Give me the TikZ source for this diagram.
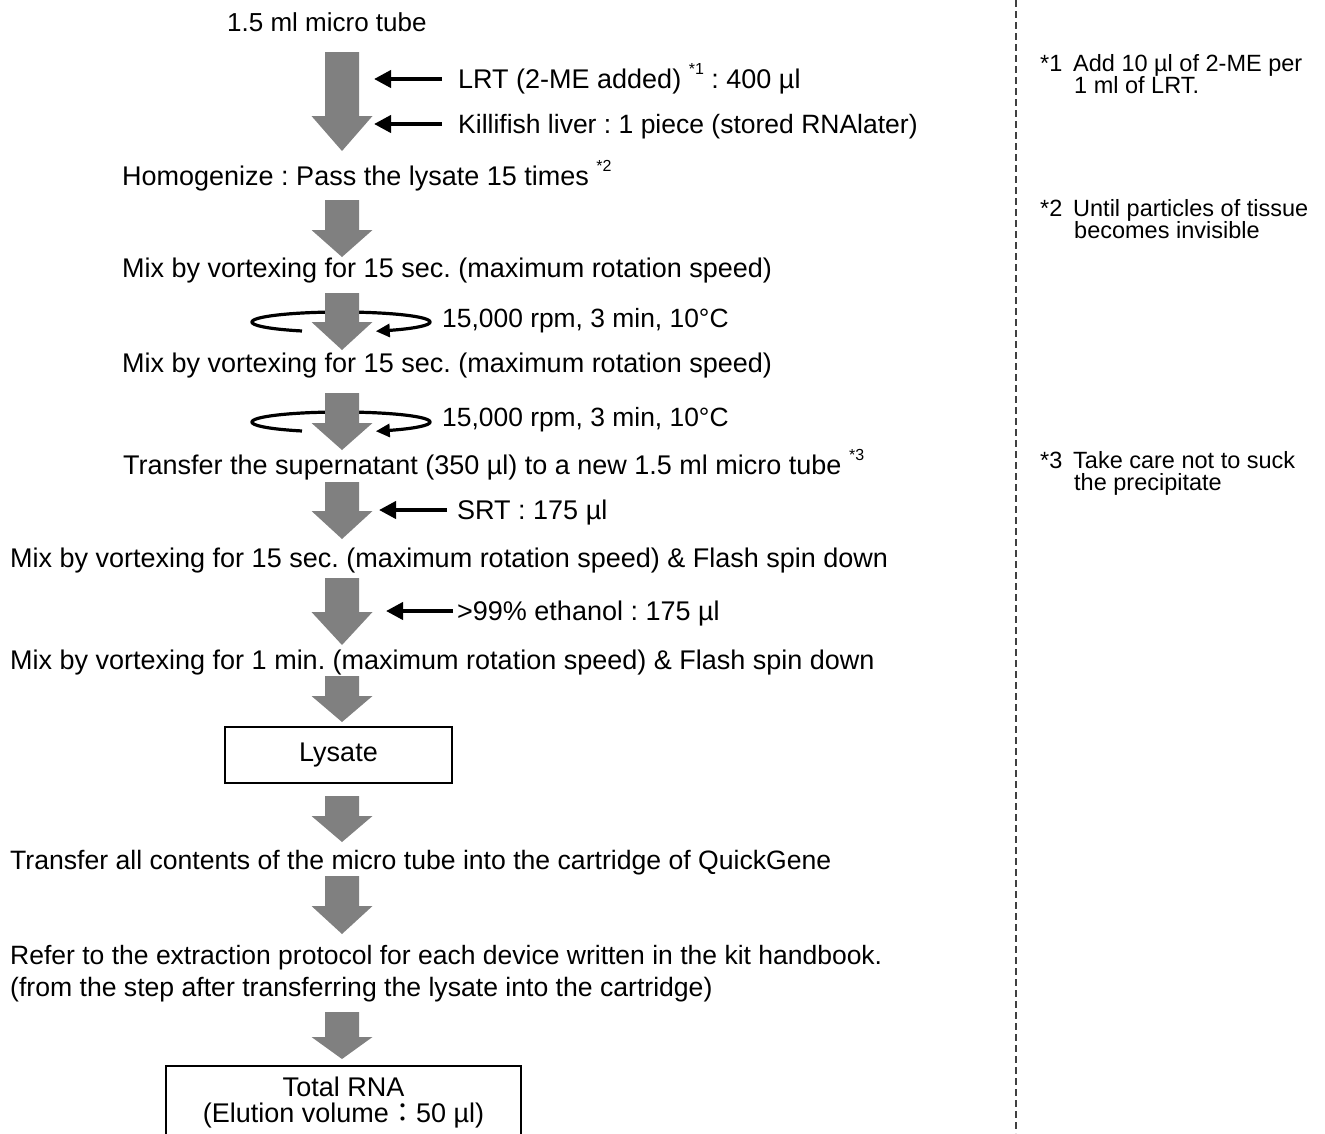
\documentclass[tikz,border=0pt]{standalone}
\usepackage{fontspec}
\setmainfont{Liberation Sans}
\newfontfamily\cjkfont{Noto Sans CJK JP}
\usetikzlibrary{arrows.meta}
\frenchspacing
\definecolor{arrowgray}{HTML}{808080}
\newcommand\sups[1]{\raisebox{14pt}{\fontsize{16}{16}\selectfont #1}}
% name, top, head start, tip
\newcommand\garrow[4]{%
  \coordinate (#1) at (342,#2);
  \fill[arrowgray] (325,#2) -- (359,#2) -- (359,#3) -- (372.5,#3) -- (342,#4)
    -- (311.5,#3) -- (325,#3) -- cycle;}
\newcommand\spin[2]{% name, centre y
  \coordinate (#1) at (341,#2);
  \draw[spinline] plot[domain=116:427,samples=90] ({341+89*cos(\x)},{#2+10*sin(\x)});}
\tikzset{
  main/.style={anchor=west, inner sep=0pt, text height=19pt, text depth=0pt,
    font=\fontsize{27}{32}\selectfont\frenchspacing},
  fs/.style={font=\fontsize{#1}{32}\selectfont\frenchspacing},
  fn/.style={anchor=west, inner sep=0pt, text height=17pt, text depth=0pt,
    font=\fontsize{23.5}{26}\selectfont\frenchspacing},
  inarr/.style={line width=4pt, -{Triangle[length=17pt,width=17pt]}},
  spinline/.style={line width=3.2pt, -{Triangle[length=14pt,width=13pt]}},
  boxn/.style={draw, line width=2pt, inner sep=0pt, font=\fontsize{27}{32}\selectfont\frenchspacing}
}
\begin{document}
\begin{tikzpicture}[x=1pt,y=-1pt]
\useasboundingbox (0,0) rectangle (1325,1133);
\begin{scope}
\clip (0,0) rectangle (1325,1133);

% centrifuge rings (behind the arrows)
\spin{c1}{322}
\spin{c2}{422}

% big grey arrows
\garrow{a1}{52}{116}{151}
\garrow{a2}{200}{230}{257}
\garrow{a3}{293}{322}{350}
\garrow{a4}{393}{423}{450}
\garrow{a5}{482}{511}{539}
\garrow{a6}{578}{612}{645}
\garrow{a7}{676}{696}{722}
\garrow{a8}{796}{816}{842}
\garrow{a9}{876}{906}{934}
\garrow{a10}{1012}{1037}{1059}

% main column texts
\node[main, fs=26] (tube) at (227,22) {1.5 ml micro tube};
\node[main] (lrt) at (458,79) {LRT (2-ME added) \sups{*1} : 400 µl};
\node[main, fs=26.5] (liver) at (458,124) {Killifish liver : 1 piece (stored RNAlater)};
\node[main] (homog) at (122,176) {Homogenize : Pass the lysate 15 times \sups{*2}};
\node[main] (mix1) at (122,268) {Mix by vortexing for 15 sec. (maximum rotation speed)};
\node[main, fs=26.4] (cf1) at (442,318) {15,000 rpm, 3 min, 10°C};
\node[main] (mix2) at (122,363) {Mix by vortexing for 15 sec. (maximum rotation speed)};
\node[main, fs=26.4] (cf2) at (442,417) {15,000 rpm, 3 min, 10°C};
\node[main] (trans) at (123,465) {Transfer the supernatant (350 µl) to a new 1.5 ml micro tube \sups{*3}};
\node[main] (srt) at (457,510) {SRT : 175 µl};
\node[main] (mix3) at (10,558) {Mix by vortexing for 15 sec. (maximum rotation speed) \& Flash spin down};
\node[main] (eth) at (457,611) {>99\% ethanol : 175 µl};
\node[main] (mix4) at (10,660) {Mix by vortexing for 1 min. (maximum rotation speed) \& Flash spin down};
\node[boxn, minimum width=227pt, minimum height=56pt] (lys) at (338.5,755) {Lysate};
\node[main, fs=26.6] (transall) at (10,860) {Transfer all contents of the micro tube into the cartridge of QuickGene};
\node[main, fs=26.5] (refer) at (10,955) {Refer to the extraction protocol for each device written in the kit handbook.};
\node[main, fs=26.6] (from) at (10,987) {(from the step after transferring the lysate into the cartridge)};
\node[boxn, anchor=north, minimum width=355pt, minimum height=74pt, align=center,
  font=\fontsize{27}{26}\selectfont] (rna) at (343.5,1065)
  {Total RNA\\(Elution volume{\cjkfont ：}50 µl)};

% input arrows
\draw[inarr] ([xshift=-16pt]lrt.west) -- ++(-68,0) coordinate (lrtend);
\draw[inarr] ([xshift=-16pt]liver.west) -- ++(-68,0) coordinate (liverend);
\draw[inarr] ([xshift=-10pt]srt.west) -- ++(-68,0) coordinate (srtend);
\draw[inarr] ([xshift=-4pt]eth.west) -- ++(-67,0) coordinate (ethend);

% separator
\draw[line width=1.5pt, black!75, dash pattern=on 7pt off 4pt] (1016,0) coordinate (sep1) -- (1016,1133) coordinate (sep2);

% footnotes
\node[fn] (f1n) at (1040,63) {*1};
\node[fn] (f1a) at (1073,63) {Add 10 µl of 2-ME per};
\node[fn] (f1b) at (1074,85) {1 ml of LRT.};
\node[fn] (f2n) at (1040,208) {*2};
\node[fn] (f2a) at (1073,208) {Until particles of tissue};
\node[fn] (f2b) at (1074,230) {becomes invisible};
\node[fn] (f3n) at (1040,460) {*3};
\node[fn] (f3a) at (1073,460) {Take care not to suck};
\node[fn] (f3b) at (1074,482) {the precipitate};
\end{scope}
\end{tikzpicture}
\end{document}
